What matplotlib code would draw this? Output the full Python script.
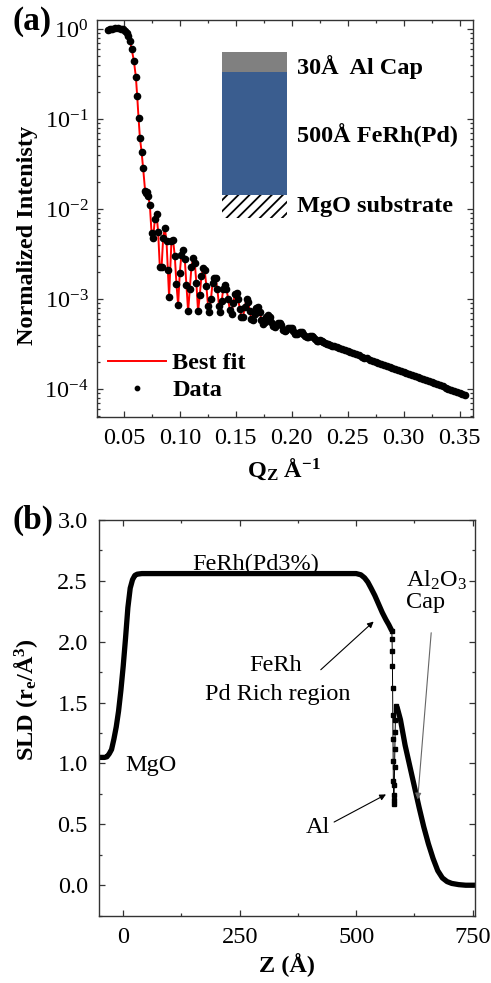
import numpy as np
import matplotlib
matplotlib.use('Agg')
import matplotlib.pyplot as plt
from matplotlib.patches import Rectangle
from matplotlib.ticker import MultipleLocator, LogLocator, NullFormatter, FormatStrFormatter

# ---------------- data: reflectivity ----------------
q_data = [0.0354, 0.0375, 0.0397, 0.0420, 0.0446, 0.0473, 0.0494, 0.0513, 0.0527, 0.0538,
          0.0554, 0.0569, 0.0589, 0.0607, 0.0619, 0.0631, 0.0643, 0.0658, 0.0672, 0.0690,
          0.0700, 0.0708, 0.0717, 0.0732, 0.0747, 0.0762, 0.0777, 0.0792, 0.0806, 0.0821,
          0.0837, 0.0851, 0.0866, 0.0881, 0.0893, 0.0904, 0.0925, 0.0940, 0.0955, 0.0970,
          0.0985, 0.0999, 0.1014, 0.1029, 0.1044, 0.1059, 0.1074, 0.1089, 0.1104, 0.1119,
          0.1134, 0.1148, 0.1163, 0.1178, 0.1193, 0.1208, 0.1222, 0.1237, 0.1252, 0.1264,
          0.1278, 0.1292, 0.1306, 0.1320, 0.1335, 0.1350, 0.1360, 0.1374, 0.1388, 0.1402,
          0.1417, 0.1432, 0.1447, 0.1462, 0.1477, 0.1492, 0.1507, 0.1521, 0.1536, 0.1551,
          0.1565, 0.1580, 0.1596, 0.1610, 0.1625, 0.1640, 0.1654, 0.1669, 0.1684, 0.1699,
          0.1714, 0.1729, 0.1744, 0.1758, 0.1773, 0.1788, 0.1804, 0.1818, 0.1833, 0.1848,
          0.1863, 0.1878, 0.1893, 0.1908, 0.1923, 0.1938, 0.1953, 0.1968, 0.1983, 0.1998,
          0.2013, 0.2028, 0.2043, 0.2058, 0.2073, 0.2088, 0.2103, 0.2118, 0.2133, 0.2148,
          0.2163, 0.2178, 0.2193, 0.2208, 0.2223, 0.2238, 0.2253, 0.2268, 0.2283, 0.2298,
          0.2313, 0.2328, 0.2343, 0.2358, 0.2375, 0.2400, 0.2425, 0.2450, 0.2475, 0.2500,
          0.2525, 0.2550, 0.2575, 0.2600, 0.2625, 0.2650, 0.2675, 0.2700, 0.2725, 0.2750,
          0.2775, 0.2800, 0.2825, 0.2850, 0.2875, 0.2900, 0.2925, 0.2950, 0.2975, 0.3000,
          0.3025, 0.3050, 0.3075, 0.3100, 0.3125, 0.3150, 0.3175, 0.3200, 0.3225, 0.3250,
          0.3275, 0.3300, 0.3325, 0.3350, 0.3375, 0.3400, 0.3425, 0.3450, 0.3475, 0.3500,
          0.3525, 0.3550]
R_data = [0.975, 0.995, 1.02, 1.03, 1.03, 1.02, 0.995, 0.957, 0.90, 0.84,
          0.74, 0.61, 0.448, 0.297, 0.181, 0.104, 0.0626, 0.0436, 0.0285, 0.0159,
          0.0150, 0.0154, 0.0140, 0.0112, 0.0055, 0.0048, 0.0078, 0.0088, 0.0056, 0.00229,
          0.00227, 0.0048, 0.0062, 0.0044, 0.0021, 0.00106, 0.0044, 0.0045, 0.0030, 0.00146,
          0.00086, 0.00193, 0.0031, 0.0035, 0.0028, 0.00145, 0.00073, 0.0013, 0.0023, 0.00285,
          0.0025, 0.00150, 0.00073, 0.0011, 0.0018, 0.0022, 0.0021, 0.0014, 0.00085, 0.00072,
          0.0010, 0.0015, 0.00172, 0.0017, 0.0013, 0.00085, 0.00072, 0.00095, 0.0013, 0.00143,
          0.0013, 0.0010, 0.00075, 0.00069, 0.00090, 0.00115, 0.00116, 0.00100, 0.00078, 0.00064,
          0.00063, 0.00082, 0.00100, 0.00093, 0.00074, 0.00060, 0.00058, 0.00068, 0.00080, 0.00081,
          0.00072, 0.00059, 0.00053, 0.00056, 0.00064, 0.00066, 0.00064, 0.00056, 0.00050, 0.000485,
          0.00052, 0.00055, 0.00055, 0.00051, 0.00046, 0.00044, 0.000452, 0.000473, 0.000484, 0.000473,
          0.000442, 0.000412, 0.000407, 0.000422, 0.000437, 0.000432, 0.000407, 0.000385, 0.000376, 0.000380,
          0.000389, 0.000389, 0.000376, 0.000359, 0.000347, 0.000347, 0.000348, 0.000343, 0.000333, 0.000322,
          0.000316, 0.000314, 0.000309, 0.000303, 3.00e-4, 2.92e-4, 2.85e-4, 2.77e-4, 2.70e-4, 2.63e-4,
          2.56e-4, 2.49e-4, 2.43e-4, 2.37e-4, 2.30e-4, 2.24e-4, 2.19e-4, 2.13e-4, 2.07e-4, 2.02e-4,
          1.97e-4, 1.91e-4, 1.86e-4, 1.82e-4, 1.77e-4, 1.72e-4, 1.68e-4, 1.63e-4, 1.59e-4, 1.55e-4,
          1.51e-4, 1.47e-4, 1.43e-4, 1.39e-4, 1.36e-4, 1.32e-4, 1.29e-4, 1.25e-4, 1.22e-4, 1.19e-4,
          1.16e-4, 1.13e-4, 1.10e-4, 1.07e-4, 1.04e-4, 1.01e-4, 9.87e-5, 9.6e-5, 9.36e-5, 9.12e-5,
          8.88e-5, 8.65e-5]
R_fit = list(R_data)

# ---------------- data: SLD profile ----------------
z_film = [-52, -40, -35, -30, -25, -20, -15, -10, -5, 0, 5, 10, 15, 20, 25, 30, 40,
          100, 200, 300, 400, 500, 510, 518, 525, 532, 540, 548, 556, 564, 570, 576.5]
sld_film = [1.05, 1.05, 1.055, 1.08, 1.115, 1.20, 1.30, 1.43, 1.60, 1.80, 2.03, 2.28, 2.44, 2.51, 2.545, 2.555, 2.56,
            2.56, 2.56, 2.56, 2.56, 2.56, 2.55, 2.525, 2.49, 2.44, 2.38, 2.31, 2.24, 2.18, 2.14, 2.09]
z_dip = [576.5, 577.0, 577.4, 577.8, 578.2, 578.6, 579.0, 579.4, 579.8, 580.2, 580.6,
         581.2, 581.8, 582.4, 583.0, 583.6, 584.2, 584.8, 585.5]
sld_dip = [2.09, 2.02, 1.92, 1.80, 1.62, 1.40, 1.20, 1.02, 0.86, 0.74, 0.67,
           0.70, 0.82, 0.97, 1.12, 1.26, 1.36, 1.44, 1.47]
z_cap = [585.5, 588, 595, 605, 615, 625, 635, 645, 655, 665, 675, 685, 695, 705, 720, 735, 755]
sld_cap = [1.47, 1.46, 1.36, 1.15, 0.98, 0.81, 0.64, 0.48, 0.34, 0.22, 0.12, 0.06, 0.03, 0.015, 0.005, 0.0, 0.0]

# ---------------- style ----------------
plt.rcParams['font.family'] = ['Liberation Serif', 'DejaVu Serif']
plt.rcParams['mathtext.fontset'] = 'custom'
plt.rcParams['mathtext.rm'] = 'Liberation Serif'
plt.rcParams['mathtext.it'] = 'Liberation Serif:italic'
plt.rcParams['mathtext.bf'] = 'Liberation Serif:bold'
plt.rcParams['axes.unicode_minus'] = False
plt.rcParams['hatch.linewidth'] = 1.3
FS = 17.5
SPC = '#333333'

fig = plt.figure(figsize=(4.91, 9.83), dpi=100)
axa = fig.add_axes([0.1976, 0.5758, 0.7658, 0.4039])
axb = fig.add_axes([0.2016, 0.0685, 0.7658, 0.4025])

for ax in (axa, axb):
    for s in ax.spines.values():
        s.set_linewidth(1.0)
        s.set_color(SPC)
    ax.tick_params(which='both', direction='in', top=True, right=True,
                   labelsize=FS, color=SPC, width=0.9)
    ax.tick_params(which='major', length=4.5)
    ax.tick_params(which='minor', length=2.5)

# ---------------- panel (a) ----------------
axa.plot(q_data, R_fit, color='red', lw=1.4, zorder=2, label='Best fit')
axa.plot(q_data, R_data, ls='none', marker='o', ms=4.5, color='black', zorder=3, label='Data')
axa.set_yscale('log')
axa.set_xlim(0.026, 0.362)
axa.set_ylim(4.9e-5, 1.27)
axa.xaxis.set_major_locator(MultipleLocator(0.05))
axa.xaxis.set_minor_locator(MultipleLocator(0.025))
axa.xaxis.set_major_formatter(FormatStrFormatter('%.2f'))
axa.yaxis.set_major_locator(LogLocator(base=10, numticks=10))
axa.yaxis.set_minor_locator(LogLocator(base=10, subs=np.arange(2, 10), numticks=10))
axa.yaxis.set_minor_formatter(NullFormatter())
axa.tick_params(axis='x', pad=8)
axa.tick_params(axis='y', pad=6)

axa.set_ylabel('Normalized Intenisty', fontsize=FS, fontweight='bold')
axa.yaxis.set_label_coords(-0.157, 0.458)
axa.set_xlabel(r'Q$_\mathbf{Z}$ Å$^\mathbf{-1}$', fontsize=FS, fontweight='bold', va='top')
axa.xaxis.set_label_coords(0.497, -0.10)

leg = axa.legend(loc='lower left', bbox_to_anchor=(0.029, 0.04), frameon=False,
                 prop={'size': FS, 'weight': 'bold'}, handlelength=2.4, handletextpad=0.25,
                 labelspacing=0.2, borderpad=0, borderaxespad=0, numpoints=1, markerscale=0.7)

# schematic inset
axa.add_patch(Rectangle((0.333, 0.870), 0.173, 0.050, transform=axa.transAxes,
                        facecolor='#808080', edgecolor='none', zorder=4))
axa.add_patch(Rectangle((0.333, 0.559), 0.173, 0.311, transform=axa.transAxes,
                        facecolor='#3a5d8f', edgecolor='none', zorder=4))
axa.add_patch(Rectangle((0.333, 0.500), 0.173, 0.059, transform=axa.transAxes,
                        facecolor='none', edgecolor='black', hatch='///', lw=0, zorder=4))
for txt, yy in (('30Å  Al Cap', 0.882), ('500Å FeRh(Pd)', 0.710), ('MgO substrate', 0.529)):
    axa.text(0.532, yy, txt, transform=axa.transAxes, fontsize=FS, fontweight='bold',
             ha='left', va='center')

# ---------------- panel (b) ----------------
axb.plot(z_film, sld_film, color='black', lw=3.8, solid_capstyle='butt', solid_joinstyle='round')
axb.plot(z_dip, sld_dip, color='black', lw=0.7, marker='s', ms=2.3)
axb.plot(z_cap, sld_cap, color='black', lw=3.8, solid_capstyle='butt', solid_joinstyle='round')
axb.set_xlim(-52, 755)
axb.set_ylim(-0.25, 3.0)
axb.xaxis.set_major_locator(MultipleLocator(250))
axb.xaxis.set_minor_locator(MultipleLocator(125))
axb.yaxis.set_major_locator(MultipleLocator(0.5))
axb.yaxis.set_minor_locator(MultipleLocator(0.25))
axb.yaxis.set_major_formatter(FormatStrFormatter('%.1f'))
axb.tick_params(axis='x', pad=8)
axb.tick_params(axis='y', pad=8)

axb.set_ylabel(r'SLD (r$_\mathbf{e}$/Å$^\mathbf{3}$)', fontsize=FS, fontweight='bold')
axb.yaxis.set_label_coords(-0.157, 0.545)
axb.set_xlabel('Z (Å)', fontsize=FS, fontweight='bold', va='top')
axb.xaxis.set_label_coords(0.501, -0.094)

axb.text(284, 2.59, 'FeRh(Pd3%)', fontsize=FS, ha='center', va='baseline')
axb.text(606, 2.45, r'Al$_2$O$_3$', fontsize=FS, ha='left', va='baseline')
axb.text(606, 2.28, 'Cap', fontsize=FS, ha='left', va='baseline')
axb.text(327, 1.757, 'FeRh', fontsize=FS, ha='center', va='baseline')
axb.text(332, 1.525, 'Pd Rich region', fontsize=FS, ha='center', va='baseline')
axb.text(3.7, 0.937, 'MgO', fontsize=FS, ha='left', va='baseline')
axb.text(391.6, 0.43, 'Al', fontsize=FS, ha='left', va='baseline')

arr = dict(arrowstyle='-|>', lw=0.8, color='black', mutation_scale=9, shrinkA=0, shrinkB=0)
axb.annotate('', xy=(537.5, 2.166), xytext=(424, 1.77), arrowprops=arr)
axb.annotate('', xy=(564, 0.746), xytext=(452.6, 0.519), arrowprops=arr)
arr2 = dict(arr, color='#666666')
axb.annotate('', xy=(632, 0.705), xytext=(661, 2.074), arrowprops=arr2)

fig.text(12 / 491, 1 - 30 / 983, '(a)', fontsize=24, fontweight='bold', va='baseline')
fig.text(12 / 491, 1 - 529 / 983, '(b)', fontsize=24, fontweight='bold', va='baseline')

fig.savefig('out.png', dpi=100)
